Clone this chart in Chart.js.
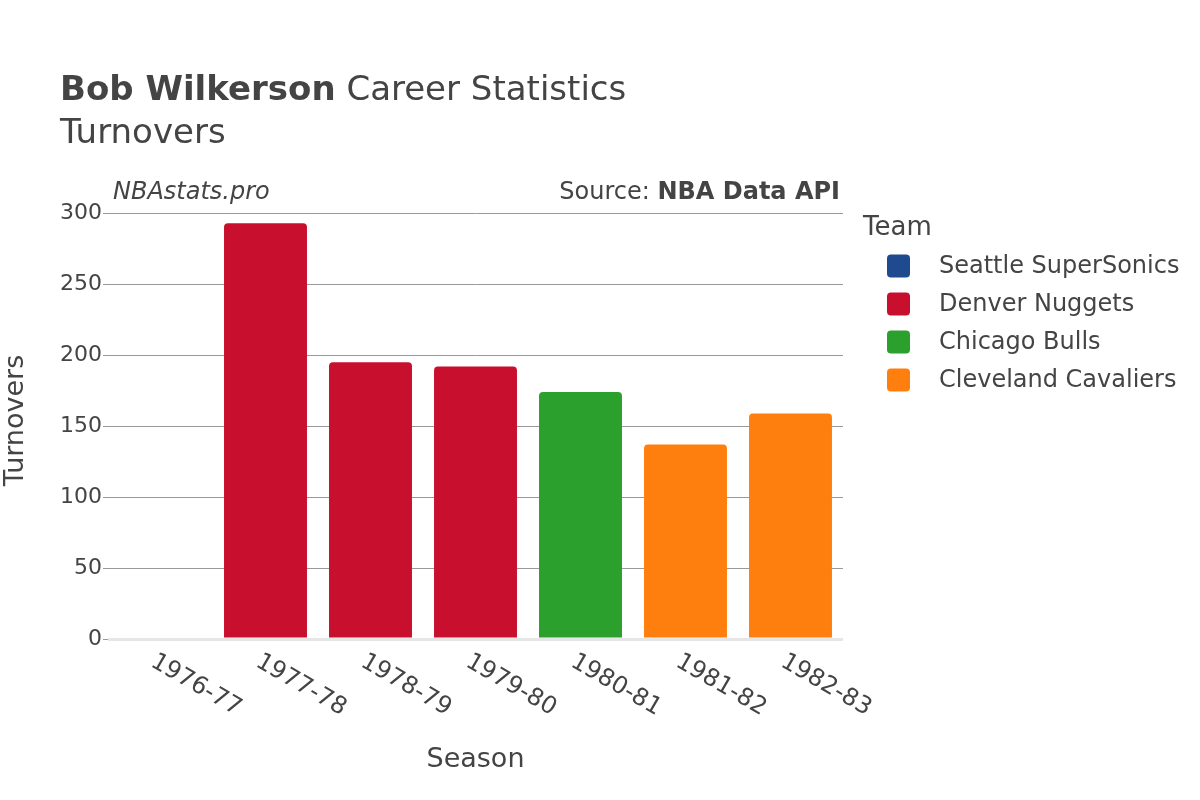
<!DOCTYPE html>
<html>
<head>
<meta charset="utf-8">
<script src="https://cdn.jsdelivr.net/npm/chart.js@4.4.0/dist/chart.umd.min.js"></script>
<style>
  html, body { margin: 0; padding: 0; background: #fff; }
  #wrap { width: 1200px; height: 800px; }
</style>
</head>
<body>
<div id="wrap"><canvas id="myChart" width="1200" height="800"></canvas></div>
<script>
const seasons = ["1976-77", "1977-78", "1978-79", "1979-80", "1980-81", "1981-82", "1982-83"];
const teams = ["Seattle SuperSonics", "Denver Nuggets", "Chicago Bulls", "Cleveland Cavaliers"];
const teamColors = ["#1f4a8f", "#c8102e", "#2ca02c", "#ff7f0e"];

// turnovers per season, one array per team (null = did not play there)
const seattle = [0, null, null, null, null, null, null];
const denver = [null, 293, 195, 192, null, null, null];
const chicago = [null, null, null, null, 174, null, null];
const cleveland = [null, null, null, null, null, 137, 159];

const yTicks = [0, 50, 100, 150, 200, 250, 300];

const textColor = "#444";
const fontFamily = "'DejaVu Sans', sans-serif";

const teamSeries = [seattle, denver, chicago, cleveland];

const data = {
    labels: seasons,
    datasets: teams.map((t, i) => ({
        label: t,
        data: teamSeries[i],
        backgroundColor: teamColors[i],
        borderRadius: 4,
        borderSkipped: "start",
    }))
};

// titles, source line, rotated season labels and the legend
const decorations = {
    id: "decorations",
    afterDraw(chart) {
        const ctx = chart.ctx;
        ctx.save();
        ctx.fillStyle = textColor;
        ctx.textBaseline = "alphabetic";
        ctx.textAlign = "left";

        ctx.font = "bold 34px " + fontFamily;
        ctx.fillText("Bob Wilkerson", 60, 100);
        const w = ctx.measureText("Bob Wilkerson").width;
        ctx.font = "34px " + fontFamily;
        ctx.fillText(" Career Statistics", 60 + w, 100);
        ctx.fillText("Turnovers", 60, 143);

        ctx.font = "italic 24px " + fontFamily;
        ctx.fillText("NBAstats.pro", 113, 199);

        ctx.textAlign = "right";
        ctx.font = "bold 24px " + fontFamily;
        ctx.fillText("NBA Data API", 840, 199);
        const bw = ctx.measureText("NBA Data API").width;
        ctx.font = "24px " + fontFamily;
        ctx.fillText("Source: ", 840 - bw, 199);

        // season labels, rotated clockwise
        const x = chart.scales.x;
        ctx.font = "24px " + fontFamily;
        ctx.textAlign = "left";
        ctx.textBaseline = "middle";
        seasons.forEach((s, i) => {
            const px = x.getPixelForValue(i);
            ctx.save();
            ctx.translate(px - 8, 660);
            ctx.rotate(Math.PI / 6);
            ctx.fillText(s, 0, 0);
            ctx.restore();
        });

        // legend
        ctx.textAlign = "left";
        ctx.textBaseline = "alphabetic";
        ctx.font = "26px " + fontFamily;
        ctx.fillText("Team", 863, 235);
        ctx.font = "24px " + fontFamily;
        ctx.textBaseline = "middle";
        teams.forEach((t, i) => {
            const cy = 266 + i * 38;
            ctx.fillStyle = teamColors[i];
            ctx.beginPath();
            ctx.roundRect(887, cy - 11.5, 23, 23, 4);
            ctx.fill();
            ctx.fillStyle = textColor;
            ctx.fillText(t, 939, cy + 1);
        });
        ctx.restore();
    }
};

const config = {
    type: "bar",
    data,
    options: {
        responsive: false,
        animation: false,
        layout: {
            padding: { top: 202, left: 0, right: 357, bottom: 0 }
        },
        datasets: {
            bar: {
                grouped: false,
                categoryPercentage: 0.79,
                barPercentage: 1,
            }
        },
        plugins: {
            legend: { display: false },
            tooltip: { enabled: false },
        },
        scales: {
            x: {
                afterFit: (s) => { s.height = 161; },
                grid: { display: false },
                border: { display: false },
                ticks: { display: false },
                title: {
                    display: true,
                    text: "Season",
                    color: textColor,
                    font: { family: fontFamily, size: 27 },
                    padding: { top: 0, bottom: 24 },
                },
            },
            y: {
                min: 0,
                max: 308,
                afterFit: (s) => { s.width = 108; },
                afterBuildTicks: (s) => {
                    s.ticks = yTicks.map(v => ({ value: v }));
                },
                border: { display: false },
                grid: {
                    color: (c) => c.tick && c.tick.value === 0 ? "#e6e6e6" : "#999",
                    lineWidth: (c) => c.tick && c.tick.value === 0 ? 3 : 1,
                    tickColor: "#999",
                    tickLength: 5,
                    tickWidth: 1,
                },
                ticks: {
                    color: textColor,
                    padding: 1,
                    font: { family: fontFamily, size: 22 },
                },
                title: {
                    display: true,
                    text: "Turnovers",
                    color: textColor,
                    font: { family: fontFamily, size: 27 },
                    padding: { top: 0, bottom: 0 },
                },
            },
        },
    },
    plugins: [decorations]
};

const ctx = document.getElementById("myChart");
let myChart = new Chart(ctx, config);
</script>
</body>
</html>
